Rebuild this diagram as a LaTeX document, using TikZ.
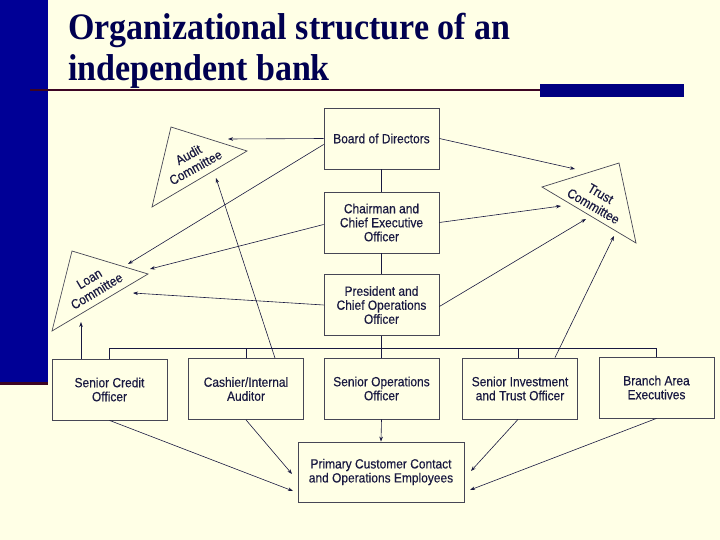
\documentclass[tikz,border=0pt]{standalone}
\usepackage{fontspec}
\setmainfont{Liberation Sans}
\newfontfamily\titlefont{Liberation Serif}
\newfontfamily\boxfont[FakeStretch=0.9,FakeBold=0.3]{Liberation Sans}
\usetikzlibrary{arrows.meta}
\definecolor{bg}{RGB}{255,255,230}
\definecolor{barblue}{RGB}{0,0,150}
\definecolor{rectblue}{RGB}{0,0,128}
\definecolor{maroon}{RGB}{60,5,35}
\definecolor{titlecol}{RGB}{0,0,80}
\definecolor{ink}{RGB}{25,25,65}
\definecolor{boxline}{RGB}{70,70,85}
\begin{document}
\begin{tikzpicture}[x=1pt,y=-1pt,
  box/.style={draw=boxline,line width=0.8pt,minimum width=115pt,minimum height=61pt,
    inner sep=1pt,align=center,text=ink,font=\boxfont\fontsize{13.3}{14}\selectfont},
  tritext/.style={align=center,text=ink,inner sep=0pt,font=\boxfont\fontsize{13.3}{14.5}\selectfont},
  tri/.style={draw=boxline,line width=0.7pt},
  conn/.style={draw=ink,line width=0.6pt},
  arr/.style={conn,-{Stealth[length=5pt,width=3.6pt]}},
  ttl/.style={anchor=base west,inner sep=0pt,text=titlecol,font=\titlefont\bfseries\fontsize{34}{40}\selectfont}]
\useasboundingbox (0,0) rectangle (720,540);
\fill[bg] (0,0) rectangle (720,540);
% left bar
\fill[barblue] (0,0) rectangle (48,385);
\fill[maroon] (0,382) rectangle (48,385);
% title
\node[ttl] (t1) at (68,40) {\scalebox{1}[1.1]{Organizational structure of an}};
\node[ttl] (t2) at (68,81) {\scalebox{1}[1.1]{independent bank}};
\draw[maroon,line width=2pt] (30,90) -- (540,90);
\fill[rectblue] (540,84) rectangle (684,97);

% boxes
\node[box] (board) at (381.5,138.5) {Board of Directors};
\node[box] (chair) at (381.5,222.5) {Chairman and\\Chief Executive\\Officer};
\node[box] (pres)  at (381.5,305) {President and\\Chief Operations\\Officer};
\node[box] (credit) at (109.5,389.5) {Senior Credit\\Officer};
\node[box] (cash)   at (246,389) {Cashier/Internal\\Auditor};
\node[box] (ops)    at (381.5,388.5) {Senior Operations\\Officer};
\node[box] (invest) at (520,388.5) {Senior Investment\\and Trust Officer};
\node[box] (branch) at (656.5,387.5) {Branch Area\\Executives};
\node[box,minimum width=166pt,minimum height=60pt] (prim) at (381,472) {Primary Customer Contact\\and Operations Employees};

% triangles
\coordinate (a1) at (171,127); \coordinate (a2) at (247,151); \coordinate (a3) at (152,207);
\draw[tri] (a1) -- (a2) -- (a3) -- cycle;
\node[tritext,rotate=29] (audit) at (192,161) {Audit\\Committee};
\coordinate (l1) at (72,251); \coordinate (l2) at (148,274); \coordinate (l3) at (52,331);
\draw[tri] (l1) -- (l2) -- (l3) -- cycle;
\node[tritext,rotate=31] (loan) at (93,285) {Loan\\Committee};
\coordinate (r1) at (542,187); \coordinate (r2) at (619,163); \coordinate (r3) at (636,243);
\draw[tri] (r1) -- (r2) -- (r3) -- cycle;
\node[tritext,rotate=-30] (trust) at (597,200) {Trust\\Committee};

% tree lines
\coordinate (bus) at (0,348);
\draw[conn] (board.south) -- (chair.north);
\draw[conn] (chair.south) -- (pres.north);
\draw[conn] (pres.south) -- (pres.south |- bus);
\draw[conn] (credit.north) -- (credit.north |- bus) -- (branch.north |- bus) -- (branch.north);
\draw[conn] (cash.north) -- (cash.north |- bus);
\draw[conn] (ops.north) -- (ops.north |- bus);
\draw[conn] ([xshift=-2pt]invest.north) -- ([xshift=-2pt]invest.north |- bus);

% arrow tips on committees
\coordinate (auB) at (228,139);
\coordinate (auC) at (216,178);
\coordinate (loB) at (128,264);
\coordinate (loC) at (150,269);
\coordinate (loP) at (133,293);
\coordinate (loS) at (81,322);
\coordinate (trB) at (575,169);
\coordinate (trC) at (561,206);
\coordinate (trP) at (586,219);
\coordinate (trS) at (614,236);
\coordinate (prCa) at (292,474);
\coordinate (prCr) at (293,491);
\coordinate (prIn) at (471,471);
\coordinate (prBr) at (470,490);

\draw[arr] (board.west) -- (auB);
\draw[arr] ([yshift=-6pt]board.west) -- (loB);
\draw[arr] ([yshift=-2pt]chair.west) -- (loC);
\draw[arr] (pres.west) -- (loP);
\draw[arr] ([xshift=29pt]cash.north) -- (auC);
\draw[arr] ([xshift=-28.5pt]credit.north) -- (loS);
\draw[arr] (board.east) -- (trB);
\draw[arr] (chair.east) -- (trC);
\draw[arr] ([yshift=-1.5pt]pres.east) -- (trP);
\draw[arr] ([xshift=35pt]invest.north) -- (trS);
\draw[arr] (ops.south) -- (prim.north);
\draw[arr] ([xshift=-2pt]invest.south) -- (prIn);
\draw[arr] (branch.south) -- (prBr);
\draw[arr] (cash.south) -- (prCa);
\draw[arr] (credit.south) -- (prCr);
\end{tikzpicture}
\end{document}
